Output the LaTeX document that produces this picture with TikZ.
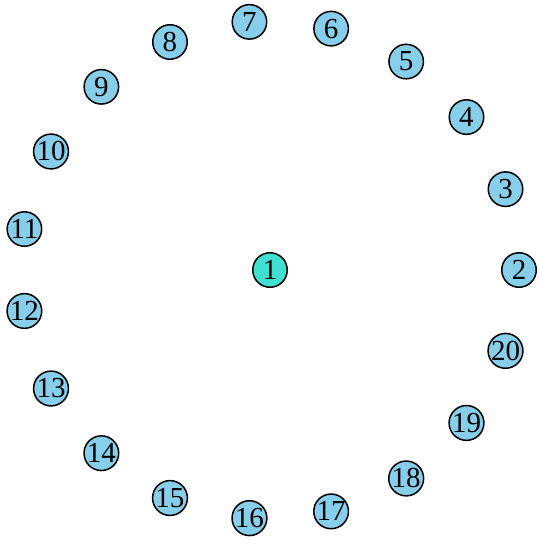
\documentclass[tikz,border=0pt]{standalone}
\usepackage{fontspec}
\setmainfont{Liberation Serif}
\definecolor{sky}{HTML}{87CEEB}
\definecolor{turq}{HTML}{40E0D0}
\tikzset{
  vtx/.style={circle, draw=black, line width=1.5pt, minimum size=34.5pt, inner sep=0pt, font=\fontsize{29}{29}\selectfont, fill=sky},
  hub/.style={vtx, fill=turq}
}
\begin{document}
\begin{tikzpicture}[x=1pt,y=-1pt]
\useasboundingbox (0,0) rectangle (538,545);
\node[hub] (n1) at (270,270) {1};
\foreach \k in {2,...,20}{
  \pgfmathsetmacro{\ang}{(\k-2)*360/19}
  \node[vtx] (n\k) at ({270+249*cos(\ang)},{270-249*sin(\ang)}) {\k};
}
\end{tikzpicture}
\end{document}
